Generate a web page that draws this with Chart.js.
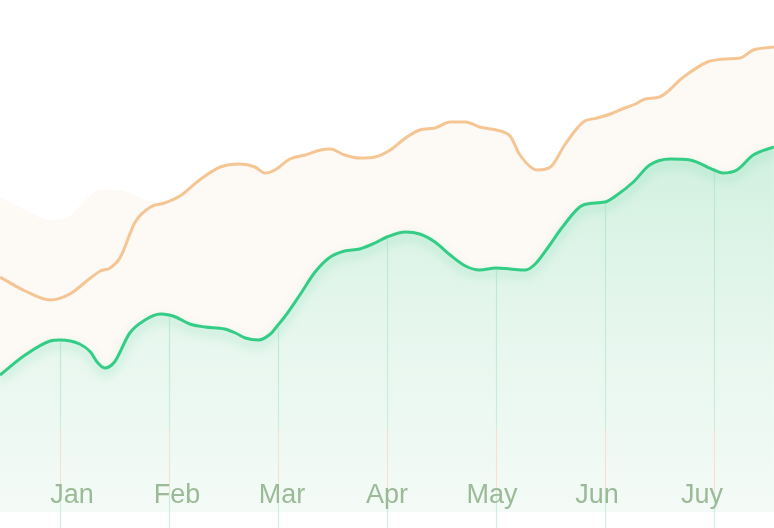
<!DOCTYPE html>
<html>
<head>
<meta charset="utf-8">
<script src="https://cdn.jsdelivr.net/npm/chart.js@4.4.1/dist/chart.umd.min.js"></script>
<style>
html,body{margin:0;padding:0;background:#ffffff;}
#wrap{width:774px;height:528px;}
</style>
</head>
<body>
<div id="wrap"><canvas id="c" width="774" height="528"></canvas></div>
<script>
// Month labels (tick labels)
const monthLabels = ['Jan', 'Feb', 'Mar', 'Apr', 'May', 'Jun', 'Juy'];
const monthTicks = [0, 1, 2, 3, 4, 5, 6];

// Orange series (x in months, Jan = 0)
const orangeX = [-0.55,-0.32,-0.09,0.09,0.28,0.37,0.46,0.55,0.69,0.83,0.96,1.10,1.28,1.47,1.65,1.79,1.88,1.97,2.11,2.25,2.39,2.48,2.61,2.75,2.89,3.03,3.17,3.30,3.44,3.58,3.72,3.85,4.04,4.13,4.22,4.38,4.50,4.63,4.80,4.93,5.05,5.18,5.28,5.37,5.50,5.72,5.94,6.10,6.24,6.36,6.55];
const orangeY = [62.75,59.25,57,58.5,62.5,64.25,65,67.5,76.5,80.25,81.25,83,87,90.25,91,90.25,88.75,89.5,92.25,93.25,94.5,94.75,93.25,92.5,92.75,94.5,97.5,99.5,100,101.5,101.5,100.25,99.25,98,93.25,89.5,90.25,95.75,101.5,102.5,103.5,105,106,107.25,107.75,112.75,116.5,117.25,117.5,119.5,120.25];

// Faint orange haze at the left
const hazeX = [-0.55,-0.32,-0.09,0.09,0.23,0.37,0.50,0.64,0.78,0.96];
const hazeY = [82.75,79.5,77,78,82,84.5,84.5,83.75,82,81.25];

// Green series
const greenX = [-0.55,-0.32,-0.09,0.00,0.18,0.28,0.34,0.41,0.50,0.64,0.78,0.92,1.00,1.06,1.19,1.33,1.51,1.61,1.70,1.82,1.93,2.00,2.06,2.20,2.34,2.48,2.61,2.75,2.89,3.00,3.17,3.30,3.44,3.58,3.72,3.85,4.00,4.13,4.27,4.36,4.48,4.61,4.80,5.00,5.11,5.26,5.41,5.60,5.78,6.00,6.08,6.21,6.36,6.55];
const greenY = [38.25,43.25,46.75,47,46,44,41.5,40,41.5,48.75,52,53.5,53.25,52.75,51,50.25,49.75,48.75,47.5,47,48.5,50.75,52.75,58.25,64,67.75,69.25,69.75,71.25,72.75,74,73.5,71.5,68.25,65.5,64.5,65,64.75,64.5,66,70.25,75.25,80.75,81.5,83.25,86.5,90.75,92.25,92,89.5,88.75,89.5,93.25,95.25];

const zip = (xs, ys) => xs.map((x, i) => ({x: x, y: ys[i]}));

const greenFill = (ctx) => {
  const ch = ctx.chart; const a = ch.chartArea;
  if (!a) return '#e6f7ee';
  const g = ch.ctx.createLinearGradient(0, 140, 0, a.bottom);
  g.addColorStop(0, '#d0f0df');
  g.addColorStop(0.45, '#e5f6ed');
  g.addColorStop(1, '#f5fbf8');
  return g;
};

const dropLines = {
  id: 'dropLines',
  afterDatasetsDraw(chart) {
    const meta = chart.getDatasetMeta(2);
    const ds = chart.data.datasets[2].data;
    const ctx = chart.ctx;
    const H = chart.height;
    ctx.save();
    meta.data.forEach((pt, i) => {
      const xv = ds[i].x;
      if (Math.abs(xv - Math.round(xv)) > 1e-6) return;
      const px = Math.round(pt.x) + 0.5;
      const g = ctx.createLinearGradient(0, pt.y, 0, H);
      const span = H - pt.y;
      const f = (yy) => Math.min(1, Math.max(0, (yy - pt.y) / span));
      g.addColorStop(0, 'rgba(175,228,200,0.75)');
      g.addColorStop(f(425), 'rgba(190,232,210,0.7)');
      g.addColorStop(f(432), 'rgba(250,215,190,0.7)');
      g.addColorStop(f(490), 'rgba(250,215,190,0.7)');
      g.addColorStop(f(498), 'rgba(190,232,210,0.7)');
      g.addColorStop(1, 'rgba(190,232,210,0.7)');
      ctx.strokeStyle = g;
      ctx.lineWidth = 1.2;
      ctx.beginPath();
      ctx.moveTo(px, pt.y + 2);
      ctx.lineTo(px, H);
      ctx.stroke();
    });
    ctx.restore();
  }
};

const lineGlow = {
  id: 'lineGlow',
  beforeDatasetDraw(chart, args) {
    if (args.index === 2) {
      const ctx = chart.ctx;
      ctx.save();
      ctx.shadowColor = 'rgba(50,200,130,0.35)';
      ctx.shadowBlur = 10;
      ctx.shadowOffsetY = 5;
    }
  },
  afterDatasetDraw(chart, args) {
    if (args.index === 2) chart.ctx.restore();
  }
};

new Chart(document.getElementById('c'), {
  type: 'line',
  data: {
    datasets: [
      {
        data: zip(hazeX, hazeY),
        order: 3,
        borderWidth: 0,
        borderColor: 'rgba(0,0,0,0)',
        backgroundColor: '#fdf9f5',
        fill: {value: 4},
        pointRadius: 0,
        cubicInterpolationMode: 'monotone',
        xAxisID: 'x', yAxisID: 'y'
      },
      {
        data: zip(orangeX, orangeY),
        order: 2,
        borderColor: '#f5c594',
        borderWidth: 3,
        backgroundColor: '#fdf9f5',
        fill: {value: 4},
        pointRadius: 0,
        cubicInterpolationMode: 'monotone',
        xAxisID: 'x', yAxisID: 'y'
      },
      {
        data: zip(greenX, greenY),
        order: 1,
        borderColor: '#33cd86',
        borderWidth: 3,
        backgroundColor: greenFill,
        fill: {value: 4},
        pointRadius: 0,
        cubicInterpolationMode: 'monotone',
        xAxisID: 'x', yAxisID: 'y'
      }
    ]
  },
  options: {
    responsive: false,
    animation: false,
    devicePixelRatio: 1,
    layout: {padding: 0},
    plugins: {legend: {display: false}, tooltip: {enabled: false}},
    scales: {
      x: {
        type: 'linear', display: false,
        min: 3 - 387 / 109, max: 3 + 387 / 109
      },
      xl: {
        type: 'linear', position: {y: 12.25},
        min: 3 - 387 / 105, max: 3 + 387 / 105,
        grid: {display: false, drawTicks: false},
        border: {display: false},
        afterBuildTicks: (s) => { s.ticks = monthTicks.map(v => ({value: v})); },
        ticks: {
          z: 5,
          padding: 0,
          autoSkip: false,
          maxRotation: 0,
          color: '#9cba98',
          font: {family: "'Liberation Sans', Arial, sans-serif", size: 27},
          callback: (v) => monthLabels[v]
        }
      },
      y: {
        type: 'linear', display: false,
        min: 0, max: 132
      }
    }
  },
  plugins: [lineGlow, dropLines]
});
</script>
</body>
</html>
